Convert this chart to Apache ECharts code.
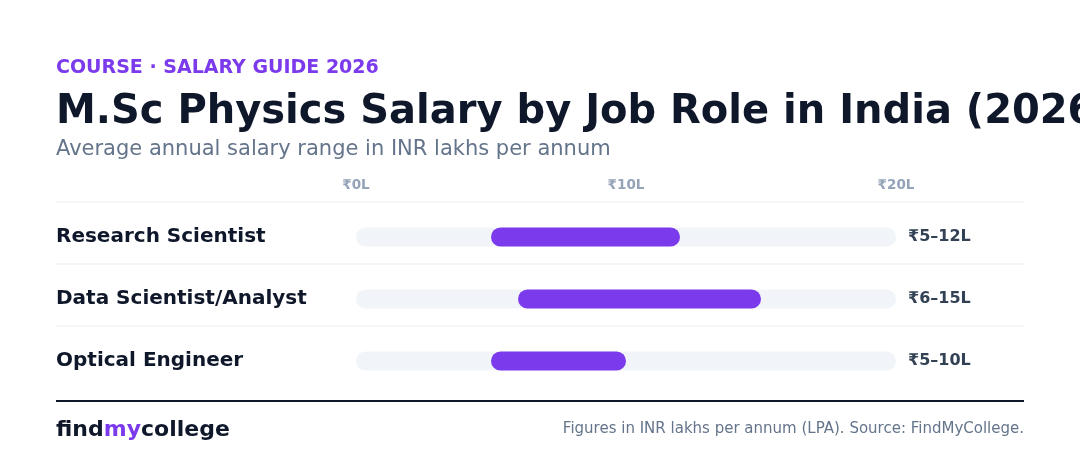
<!DOCTYPE html>
<html>
<head>
<meta charset="utf-8">
<script src="https://cdn.jsdelivr.net/npm/echarts@6/dist/echarts.min.js"></script>
<style>
  html, body { margin: 0; padding: 0; background: #fff; }
  #chart { width: 1080px; height: 474px; }
</style>
</head>
<body>
<div id="chart"></div>
<script>
// job roles and salary ranges (lakhs per annum)
var roles = ['Research Scientist', 'Data Scientist/Analyst', 'Optical Engineer'];
var lowValues = [5, 6, 5];
var highValues = [12, 15, 10];
var rangeLabels = ['₹5–12L', '₹6–15L', '₹5–10L'];
var axisMax = 20;

var FONT = 'DejaVu Sans';
var PURPLE = '#7c3aed';
var INK = '#0f172a';

var myChart = echarts.init(document.getElementById('chart'));

var option = {
    backgroundColor: '#ffffff',
    animation: false,
    textStyle: { fontFamily: FONT },
    graphic: [
        {
            type: 'text', left: 56, top: 59,
            style: { text: 'COURSE · SALARY GUIDE 2026', font: 'bold 19px "DejaVu Sans"', fill: PURPLE }
        },
        {
            type: 'text', left: 56, top: 93,
            style: { text: 'M.Sc Physics Salary by Job Role in India (2026)', font: 'bold 40px "DejaVu Sans"', fill: INK }
        },
        {
            type: 'text', left: 56, top: 139,
            style: { text: 'Average annual salary range in INR lakhs per annum', font: '21px "DejaVu Sans"', fill: '#64748b' }
        },
        {
            type: 'line',
            shape: { x1: 56, y1: 401, x2: 1024, y2: 401 },
            style: { stroke: INK, lineWidth: 2 }
        },
        {
            type: 'text', left: 56, top: 419,
            style: {
                text: '{a|find}{b|my}{a|college}',
                rich: {
                    a: { font: 'bold 22px "DejaVu Sans"', fill: INK },
                    b: { font: 'bold 22px "DejaVu Sans"', fill: PURPLE }
                }
            }
        },
        {
            type: 'text', right: 56, top: 422,
            style: { text: 'Figures in INR lakhs per annum (LPA). Source: FindMyCollege.', font: '15px "DejaVu Sans"', fill: '#64748b' }
        }
    ],
    grid: { left: 356, right: 184, top: 206, bottom: 82 },
    xAxis: {
        type: 'value',
        position: 'top',
        min: 0,
        max: axisMax,
        interval: 10,
        axisLine: { show: false },
        axisTick: { show: false },
        splitLine: { show: false },
        axisLabel: {
            margin: 14,
            color: '#94a3b8',
            fontSize: 13.5,
            fontWeight: 'bold',
            fontFamily: FONT,
            formatter: '₹{value}L'
        }
    },
    yAxis: {
        type: 'category',
        data: roles,
        inverse: true,
        axisLine: { show: false },
        axisTick: { show: false },
        splitLine: { show: false },
        axisLabel: {
            margin: 300,
            align: 'left',
            padding: [2, 0, 0, 0],
            color: INK,
            fontSize: 20,
            fontWeight: 'bold',
            fontFamily: FONT
        }
    },
    series: [
        {
            // row separators
            type: 'custom',
            silent: true,
            clip: false,
            data: roles.map(function (r, i) { return [0, i]; }),
            renderItem: function (params, api) {
                var y = api.coord([0, api.value(1)])[1] - 35;
                return {
                    type: 'line',
                    shape: { x1: 56, y1: y, x2: 1024, y2: y },
                    style: { stroke: '#e8ecf1', lineWidth: 1 }
                };
            }
        },
        {
            name: 'track',
            type: 'bar',
            barWidth: 19,
            barGap: '-100%',
            silent: true,
            data: roles.map(function () { return axisMax; }),
            itemStyle: { color: '#f1f5f9', borderRadius: 9.5 },
            label: {
                show: true,
                position: 'right',
                distance: 12,
                color: '#334155',
                fontSize: 16,
                fontWeight: 'bold',
                fontFamily: FONT,
                formatter: function (p) { return rangeLabels[p.dataIndex]; }
            },
            z: 1
        },
        {
            name: 'base',
            type: 'bar',
            stack: 'range',
            barWidth: 19,
            silent: true,
            data: lowValues,
            itemStyle: { color: 'transparent' },
            z: 2
        },
        {
            name: 'range',
            type: 'bar',
            stack: 'range',
            barWidth: 19,
            data: highValues.map(function (h, i) { return h - lowValues[i]; }),
            itemStyle: { color: PURPLE, borderRadius: 9.5 },
            z: 3
        }
    ]
};

myChart.setOption(option);
</script>
</body>
</html>
